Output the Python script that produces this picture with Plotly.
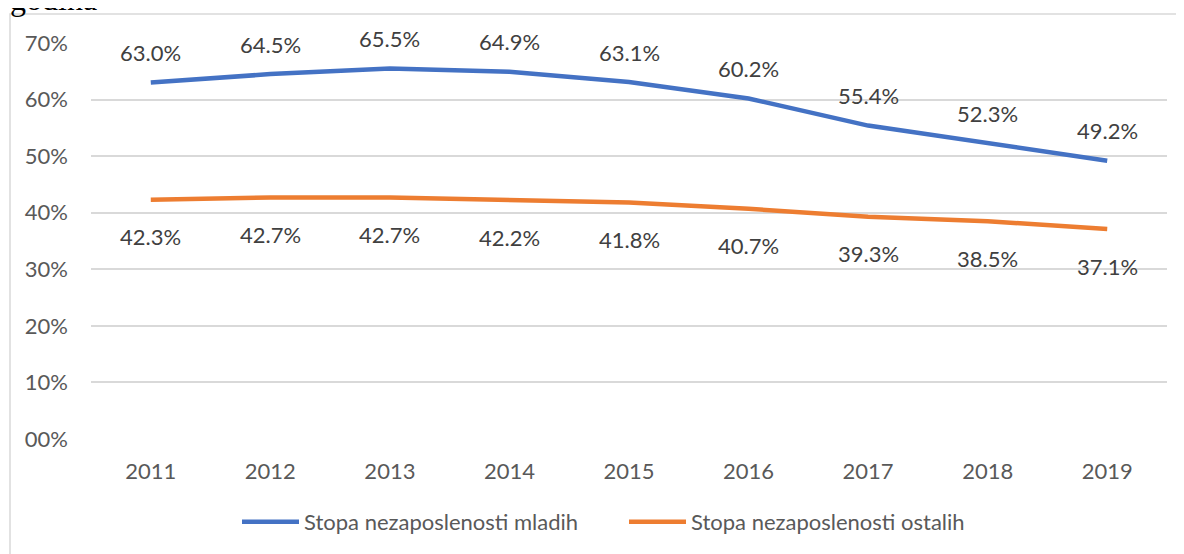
import plotly.graph_objects as go

years = ["2011", "2012", "2013", "2014", "2015", "2016", "2017", "2018", "2019"]
mladi = [63.0, 64.5, 65.5, 64.9, 63.1, 60.2, 55.4, 52.3, 49.2]
ostali = [42.3, 42.7, 42.7, 42.2, 41.8, 40.7, 39.3, 38.5, 37.1]
name_mladi = "Stopa nezaposlenosti mladih"
name_ostali = "Stopa nezaposlenosti ostalih"
y_tickvals = [0, 10, 20, 30, 40, 50, 60, 70]
y_ticktext = ["00%", "10%", "20%", "30%", "40%", "50%", "60%", "70%"]

BLUE = "#4472c4"
ORANGE = "#ed7d31"
FONT = "Lato"
TXT = "#404040"
AX = "#595959"
FS = 22

fig = go.Figure()
fig.add_trace(go.Scatter(x=years, y=mladi, mode="lines", name=name_mladi,
                         line=dict(color=BLUE, width=4.5), hoverinfo="skip"))
fig.add_trace(go.Scatter(x=years, y=ostali, mode="lines", name=name_ostali,
                         line=dict(color=ORANGE, width=4.5), hoverinfo="skip"))

annotations = []
for i, v in enumerate(mladi):
    annotations.append(dict(x=i, y=v, xref="x", yref="y", text=f"{v:.1f}%",
                            showarrow=False, yshift=30,
                            font=dict(family=FONT, size=FS, color=TXT)))
for i, v in enumerate(ostali):
    annotations.append(dict(x=i, y=v, xref="x", yref="y", text=f"{v:.1f}%",
                            showarrow=False, yshift=-37,
                            font=dict(family=FONT, size=FS, color=TXT)))

# page is drawn with an 8px body offset; coordinates below are figure pixels
W, H = 1184, 554
L, R, T, B = 83, 25, 35, 123
pw, ph = W - L - R, H - T - B

annotations.append(dict(x=(0 - L) / pw, y=(ph + T + 9) / ph, xref="paper", yref="paper", text="godina",
                        showarrow=False, xanchor="left", yanchor="middle",
                        font=dict(family="Liberation Serif", size=32, color="#000000")))

fig.update_layout(
    width=W, height=H,
    margin=dict(l=L, r=R, t=T, b=B, autoexpand=False),
    paper_bgcolor="white", plot_bgcolor="white",
    font=dict(family=FONT, size=FS, color=AX),
    annotations=annotations,
    showlegend=True,
    legend=dict(orientation="h", x=(229 - L) / pw, xanchor="left",
                y=(ph + T - 514) / ph, yanchor="middle",
                font=dict(family=FONT, size=FS, color=AX),
                entrywidth=315, entrywidthmode="pixels", itemwidth=57),
    shapes=[dict(type="rect", xref="paper", yref="paper",
                 x0=(2 - L) / pw, x1=1.2, y0=-0.5, y1=(ph + T - 6) / ph,
                 line=dict(color="#d9d9d9", width=1.5), fillcolor="rgba(0,0,0,0)", layer="below")],
)
fig.update_xaxes(type="category", range=[-0.5, 8.5], autorange=False,
                 showgrid=False, zeroline=False, showline=False, ticks="",
                 ticklabelstandoff=17, tickfont=dict(family=FONT, size=FS, color=AX))
fig.update_yaxes(range=[0, 70], autorange=False, tickvals=y_tickvals, ticktext=y_ticktext,
                 showgrid=True, gridcolor="#d9d9d9", gridwidth=1.5,
                 zeroline=False, showline=False, ticks="", ticklabelstandoff=22,
                 tickfont=dict(family=FONT, size=FS, color=AX))

fig.write_html("out.html")
